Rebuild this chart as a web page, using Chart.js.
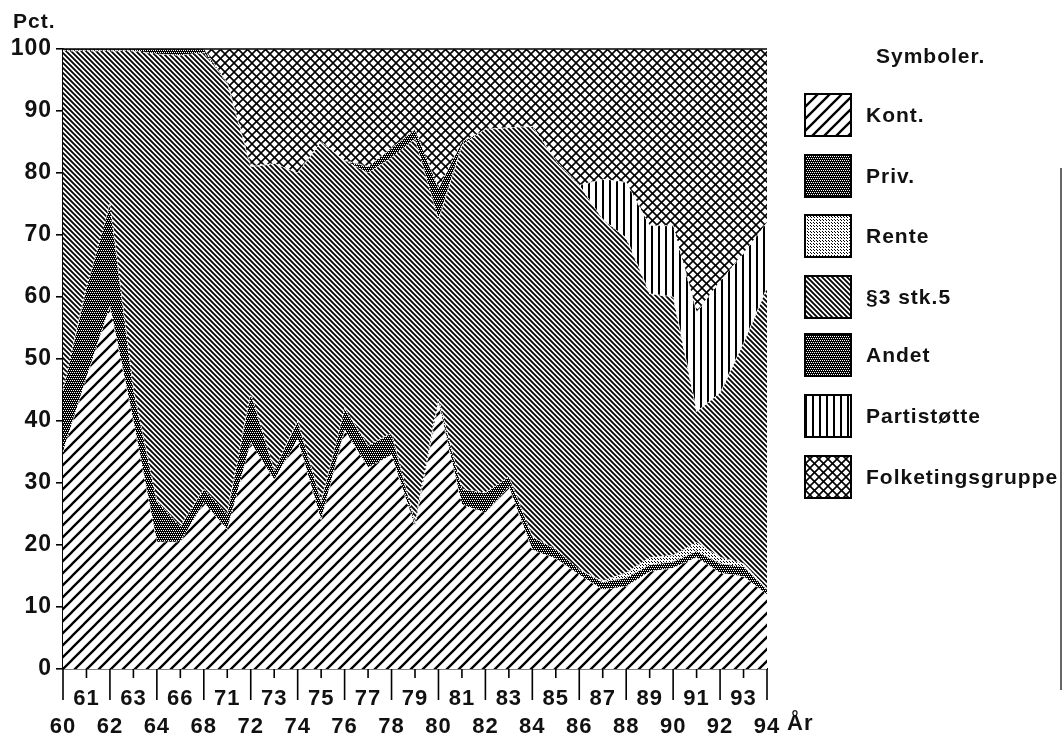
<!DOCTYPE html>
<html>
<head>
<meta charset="utf-8">
<script src="https://cdn.jsdelivr.net/npm/chart.js@4.4.1/dist/chart.umd.min.js"></script>
<style>
  html, body { margin: 0; padding: 0; background: #fff; }
  #wrap { position: relative; width: 1064px; height: 740px; }
</style>
</head>
<body>
<div id="wrap"><canvas id="chart" width="1064" height="740"></canvas></div>
<script>
// ===== 資料 (Pct. af indtægter) =====
const years = ['60','61','62','63','64','66','68','71','72','73','74','75','76','77','78','79',
               '80','81','82','83','84','85','86','87','88','89','90','91','92','93','94'];

const kont  = [35,47,58.5,40,20.5,20.5,26.8,22.5,36.5,30.5,37,24,38.5,32.5,34.5,23,
               43,26.5,25.2,29.4,19.2,17.8,15.2,12.8,13.3,15.7,16.3,18,15.5,14.9,12];
const priv  = [10,14.5,16.5,5,6.5,2.5,2.2,2.5,8,1.5,3,3,3.5,3.5,3.5,0.5,
               0.5,2.5,3.2,1.6,2.1,1.5,0.8,1.2,1.4,1.1,1,1,1.5,1.6,0.8];
const rente = [0,0,0,0,0,0,0,0,0,0,0,0,0,0,0,0,
               0,0,0,0,0,0,0,0.2,0.8,1.2,1,1.4,1,0.5,0.2];
const para3 = [54.7,38.2,24.7,54.7,72.2,76,70.4,69.5,36.5,49.5,40,58,40,44,44.5,62,
               29,55.5,58.6,56.3,66.2,62.7,62,58.3,54,42.5,41.7,21.1,26.5,35.5,48.5];
const andet = [0.3,0.3,0.3,0.3,0.8,1,0.6,0,0,0,0,0,0,1,1.5,1.5,
               5,0.5,0,0,0,0,0,0,0,0,0,0,0,0,0];
const parti = [0,0,0,0,0,0,0,0,0,0,0,0,0,0,0,0,
               0,0,0,0,0,0,0,6.5,9,11,11.5,16,18,14.5,10.5];
const folk  = [0,0,0,0,0,0,0,5.5,19,18.5,20,15,18,19,16,13,
               22.5,15,13,12.7,12.5,18,22,21,21.5,28.5,28.5,42.5,37.5,33,28];

const seriesNames = ['Kont.','Priv.','Rente','§3 stk.5','Andet','Partistøtte','Folketingsgruppe'];

const FONT = '"Liberation Sans", Arial, sans-serif';

// ===== 圖樣 (hatch patterns) =====
const canvas = document.getElementById('chart');
const mainCtx = canvas.getContext('2d');

function makePattern(w, h, draw) {
  const t = document.createElement('canvas');
  t.width = w; t.height = h;
  const g = t.getContext('2d');
  g.fillStyle = '#fff';
  g.fillRect(0, 0, w, h);
  g.strokeStyle = '#000';
  g.fillStyle = '#000';
  draw(g, w, h);
  return mainCtx.createPattern(t, 'repeat');
}

function fwd(g, s) {          // '/'
  g.beginPath();
  g.moveTo(0, s); g.lineTo(s, 0);
  g.moveTo(-2, 2); g.lineTo(2, -2);
  g.moveTo(s - 2, s + 2); g.lineTo(s + 2, s - 2);
  g.stroke();
}
function back(g, s) {         // '\'
  g.beginPath();
  g.moveTo(0, 0); g.lineTo(s, s);
  g.moveTo(-2, s - 2); g.lineTo(2, s + 2);
  g.moveTo(s - 2, -2); g.lineTo(s + 2, 2);
  g.stroke();
}
function darkDots(g) {
  g.fillRect(0, 0, 4, 4);
  g.fillStyle = '#fff';
  g.fillRect(0, 0, 1, 1); g.fillRect(2, 0, 1, 1);
  g.fillRect(1, 2, 1, 1); g.fillRect(3, 2, 1, 1);
}

const pKont  = makePattern(12, 12, (g, s) => { g.lineWidth = 2.3; fwd(g, s); });
const pPriv  = makePattern(4, 4, darkDots);
const pRente = makePattern(3, 3, (g) => { g.fillRect(1, 1, 1, 1); g.fillRect(0, 0, 1, 1); });
const pPara3 = makePattern(5, 5, (g, s) => { g.lineWidth = 1.8; back(g, s); });
const pAndet = makePattern(4, 4, darkDots);
const pParti = makePattern(7, 7, (g) => { g.fillRect(0, 0, 2, 7); });
const pFolk  = makePattern(9, 9, (g, s) => { g.lineWidth = 1.6; fwd(g, s); back(g, s); });

const patterns = [pKont, pPriv, pRente, pPara3, pAndet, pParti, pFolk];
const values = [kont, priv, rente, para3, andet, parti, folk];

// ===== 字距 =====
const spacingPlugin = {
  id: 'spacing',
  beforeDraw(chart) { chart.ctx.letterSpacing = '1px'; }
};

// ===== 刻度線 / 圖例 / 標題 =====
const decorPlugin = {
  id: 'decor',
  afterDraw(chart) {
    const ctx = chart.ctx;
    const area = chart.chartArea;
    const xs = chart.scales.x;
    ctx.save();
    ctx.strokeStyle = '#000';
    ctx.lineWidth = 1.6;

    // 上緣
    ctx.beginPath();
    ctx.moveTo(area.left, area.top);
    ctx.lineTo(area.right, area.top);
    ctx.stroke();

    // x 刻度：長短交錯
    ctx.beginPath();
    years.forEach((y, i) => {
      const px = xs.getPixelForTick(i);
      ctx.moveTo(px, area.bottom);
      ctx.lineTo(px, area.bottom + (i % 2 === 0 ? 31 : 9));
    });
    ctx.stroke();

    ctx.fillStyle = '#111';
    ctx.textBaseline = 'middle';
    ctx.textAlign = 'left';
    ctx.letterSpacing = '1px';
    ctx.font = 'bold 21px ' + FONT;
    ctx.fillText('Pct.', 13, 22);
    ctx.font = 'bold 22px ' + FONT;
    ctx.fillText('År', 787, 724);

    // 圖例
    ctx.font = 'bold 21px ' + FONT;
    ctx.fillText('Symboler.', 876, 57);
    const tops = [94, 155, 215, 276, 334, 395, 456];
    seriesNames.forEach((name, i) => {
      ctx.fillStyle = patterns[i];
      ctx.fillRect(805, tops[i], 46, 42);
      ctx.lineWidth = 2;
      ctx.strokeRect(805, tops[i], 46, 42);
      ctx.fillStyle = '#111';
      ctx.fillText(name, 866, tops[i] + 22);
    });
    ctx.letterSpacing = '0px';

    // 掃描頁邊
    ctx.lineWidth = 1.2;
    ctx.beginPath();
    ctx.moveTo(1061, 168);
    ctx.lineTo(1061, 690);
    ctx.stroke();
    ctx.restore();
  }
};

// ===== 圖表 =====
const chart = new Chart(canvas, {
  type: 'line',
  data: {
    labels: years,
    datasets: seriesNames.map((name, i) => ({
      label: name,
      data: values[i],
      backgroundColor: patterns[i],
      borderColor: '#fff',
      borderWidth: 1,
      borderDash: [2, 2],
      pointRadius: 0,
      tension: 0,
      fill: i === 0 ? 'origin' : '-1'
    }))
  },
  options: {
    responsive: false,
    animation: false,
    devicePixelRatio: 1,
    layout: { padding: { top: 49, right: 297, left: 0, bottom: 0 } },
    plugins: { legend: { display: false }, tooltip: { enabled: false } },
    scales: {
      x: {
        offset: false,
        grid: { display: false },
        border: { display: true, color: '#000', width: 1.6 },
        afterFit(scale) { scale.height = 71; },
        ticks: {
          autoSkip: false,
          maxRotation: 0,
          padding: 8,
          color: '#111',
          font: { family: FONT, size: 22, weight: 'bold', lineHeight: 1.27 },
          callback(v, i) { return i % 2 === 0 ? ['', years[i]] : [years[i], '']; }
        }
      },
      y: {
        stacked: true,
        min: 0,
        max: 100,
        grid: { drawOnChartArea: false, tickLength: 7, color: '#000', lineWidth: 1.6 },
        border: { display: true, color: '#000', width: 1.6 },
        afterFit(scale) { scale.width = 63; },
        ticks: {
          stepSize: 10,
          padding: 4,
          color: '#111',
          font: { family: FONT, size: 23, weight: 'bold' }
        }
      }
    }
  },
  plugins: [spacingPlugin, decorPlugin]
});
</script>
</body>
</html>
